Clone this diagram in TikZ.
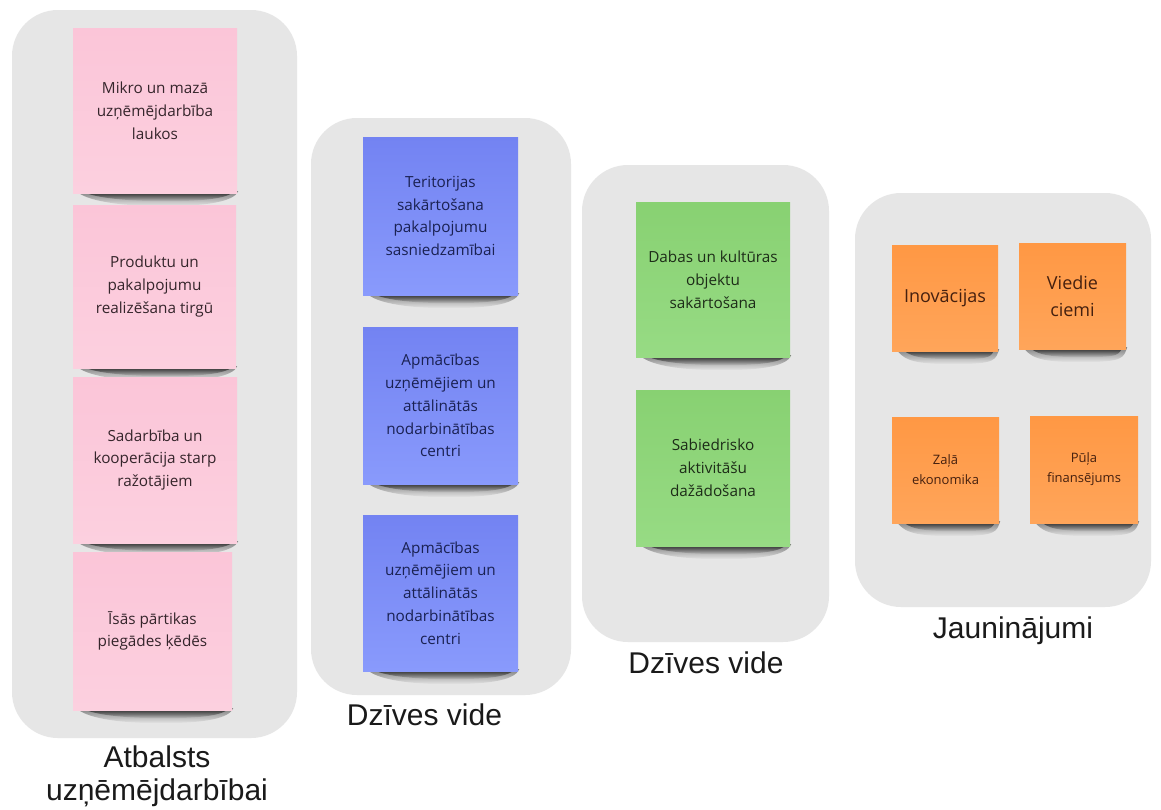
\documentclass[tikz,border=0pt]{standalone}
\usepackage{fontspec}
\setmainfont{Open Sans}
\newfontfamily\labelfont{Liberation Sans}
\usetikzlibrary{calc,fadings}
\definecolor{panelgray}{HTML}{E6E6E6}
\definecolor{pinkA}{HTML}{FBC5D8}
\definecolor{pinkB}{HTML}{FCD0DF}
\definecolor{blueA}{HTML}{7383F2}
\definecolor{blueB}{HTML}{899AFC}
\definecolor{greenA}{HTML}{88D172}
\definecolor{greenB}{HTML}{97DB84}
\definecolor{orangeA}{HTML}{FF9844}
\definecolor{orangeB}{HTML}{FFA55A}
\definecolor{pinktext}{HTML}{35252B}
\definecolor{bluetext}{HTML}{1A2152}
\definecolor{greentext}{HTML}{1D2C18}
\definecolor{orangetext}{HTML}{45200F}
\definecolor{labeltext}{HTML}{1A1A1A}
\pgfdeclarelayer{bg}
\pgfdeclarelayer{shadowlayer}
\pgfsetlayers{bg,shadowlayer,main}
\newcommand\noteshadow[1]{%
  \coordinate (#1-sa) at ($(#1.south west)+(4,-2)$);
  \coordinate (#1-sb) at ($(#1.south east)+(1,-2)$);
  \coordinate (#1-sc) at ($(#1.south)+(8,13)$);
  \coordinate (#1-ta) at ($(#1.south west)+(10,-2)$);
  \coordinate (#1-tb) at ($(#1.south east)+(-3,-2)$);
  \coordinate (#1-tc) at ($(#1.south)+(10,8)$);
  \fill[black,opacity=.45,path fading=south] (#1-sa) -- (#1-sb)
    .. controls +(-4,10) and +(45,0) .. (#1-sc)
    .. controls +(-45,0) and +(8,9) .. (#1-sa) -- cycle;
  \fill[black,opacity=.7,path fading=south] (#1-ta) -- (#1-tb)
    .. controls +(-6,7) and +(40,0) .. (#1-tc)
    .. controls +(-40,0) and +(8,6) .. (#1-ta) -- cycle;}
\begin{document}
\begin{tikzpicture}[x=1pt,y=-1pt,
  panel/.style={fill=panelgray,rounded corners=46pt},
  note/.style={rectangle,inner sep=0pt,align=center,
    font=\fontsize{15.3}{22.8}\selectfont},
  pinknote/.style={note,top color=pinkA,bottom color=pinkB,text=pinktext},
  bluenote/.style={note,top color=blueA,bottom color=blueB,text=bluetext},
  greennote/.style={note,top color=greenA,bottom color=greenB,text=greentext},
  orangenote/.style={note,top color=orangeA,bottom color=orangeB,text=orangetext},
  biglabel/.style={anchor=base,inner sep=0pt,text=labeltext,
    font=\labelfont\fontsize{30}{34}\selectfont}]
\useasboundingbox (0,0) rectangle (1161,809);
\begin{pgfonlayer}{bg}
\fill[white] (0,0) rectangle (1161,809);
\fill[panel] (12,10) rectangle (297,738);
\fill[panel] (311,118) rectangle (571,695);
\fill[panel] (582,165) rectangle (829,642);
\fill[panel] (855,193) rectangle (1151,607);
\end{pgfonlayer}

% pink column
\node[pinknote,minimum width=164pt,minimum height=165pt] (p1) at (155,110.5)
  {Mikro un mazā\\uzņēmējdarbība\\laukos};
\node[pinknote,minimum width=163pt,minimum height=163pt] (p2) at (154.5,286.5)
  {Produktu un\\pakalpojumu\\realizēšana tirgū};
\node[pinknote,minimum width=164pt,minimum height=166pt] (p3) at (155,460)
  {Sadarbība un\\kooperācija starp\\ražotājiem};
\node[pinknote,minimum width=159pt,minimum height=158pt] (p4) at (152.5,631)
  {Īsās pārtikas\\piegādes ķēdēs};

% blue column
\node[bluenote,minimum width=155pt,minimum height=158pt] (b1) at (440.5,216)
  {Teritorijas\\sakārtošana\\pakalpojumu\\sasniedzamībai};
\node[bluenote,minimum width=155pt,minimum height=157pt] (b2) at (440.5,405.5)
  {Apmācības\\uzņēmējiem un\\attālinātās\\nodarbinātības\\centri};
\node[bluenote,minimum width=155pt,minimum height=156pt] (b3) at (440.5,593)
  {Apmācības\\uzņēmējiem un\\attālinātās\\nodarbinātības\\centri};

% green column
\node[greennote,minimum width=154pt,minimum height=155pt] (g1) at (713,279.5)
  {Dabas un kultūras\\objektu\\sakārtošana};
\node[greennote,minimum width=154pt,minimum height=156pt] (g2) at (713,468)
  {Sabiedrisko\\aktivitāšu\\dažādošana};

% orange group
\node[orangenote,minimum width=106pt,minimum height=106pt,
  font=\fontsize{18}{27}\selectfont] (o1) at (945,298) {Inovācijas};
\node[orangenote,minimum width=107pt,minimum height=106pt,
  font=\fontsize{18}{27}\selectfont] (o2) at (1072.5,296) {Viedie\\ciemi};
\node[orangenote,minimum width=107pt,minimum height=106pt,
  font=\fontsize{13}{20}\selectfont] (o3) at (945.5,470) {Zaļā\\ekonomika};
\node[orangenote,minimum width=108pt,minimum height=107pt,
  font=\fontsize{13}{20}\selectfont] (o4) at (1084,469.5) {Pūļa\\finansējums};

\begin{pgfonlayer}{shadowlayer}
\noteshadow{p1}\noteshadow{p2}\noteshadow{p3}\noteshadow{p4}
\noteshadow{b1}\noteshadow{b2}\noteshadow{b3}
\noteshadow{g1}\noteshadow{g2}
\noteshadow{o1}\noteshadow{o2}\noteshadow{o3}\noteshadow{o4}
\end{pgfonlayer}

% labels
\node[biglabel] (l1a) at (157,767) {Atbalsts};
\node[biglabel] (l1b) at (157,800) {uzņēmējdarbībai};
\node[biglabel] (l2) at (424.5,725) {Dzīves vide};
\node[biglabel] (l3) at (706,673) {Dzīves vide};
\node[biglabel] (l4) at (1013,638) {Jauninājumi};
\end{tikzpicture}
\end{document}
